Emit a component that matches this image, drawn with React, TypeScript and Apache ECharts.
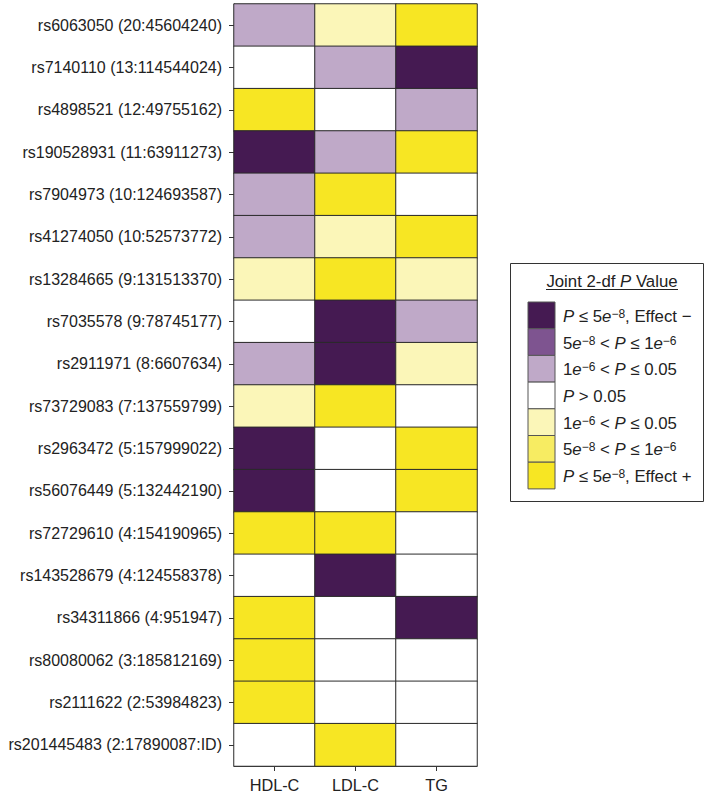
import React, { useEffect, useRef } from "react";
import * as echarts from "echarts";

const traits = ["HDL-C", "LDL-C", "TG"];
const variants = [
  "rs6063050 (20:45604240)",
  "rs7140110 (13:114544024)",
  "rs4898521 (12:49755162)",
  "rs190528931 (11:63911273)",
  "rs7904973 (10:124693587)",
  "rs41274050 (10:52573772)",
  "rs13284665 (9:131513370)",
  "rs7035578 (9:78745177)",
  "rs2911971 (8:6607634)",
  "rs73729083 (7:137559799)",
  "rs2963472 (5:157999022)",
  "rs56076449 (5:132442190)",
  "rs72729610 (4:154190965)",
  "rs143528679 (4:124558378)",
  "rs34311866 (4:951947)",
  "rs80080062 (3:185812169)",
  "rs2111622 (2:53984823)",
  "rs201445483 (2:17890087:ID)",
];
// category codes: -3 P<=5e-8 effect-, -2, -1, 0 P>0.05, 1, 2, 3 P<=5e-8 effect+
const hdlCodes = [-1, 0, 3, -3, -1, -1, 1, 0, -1, 1, -3, -3, 3, 0, 3, 3, 3, 0];
const ldlCodes = [1, -1, 0, -1, 3, 1, 3, -3, -3, 3, 0, 0, 3, -3, 0, 0, 0, 3];
const tgCodes = [3, -3, -1, 3, 0, 3, 1, -1, 1, 0, 3, 3, 0, 0, -3, 0, 0, 0];

const categoryCodes = [-3, -2, -1, 0, 1, 2, 3];
const categoryColors = ["#451a52", "#7e5490", "#bfa9c8", "#ffffff", "#fbf6b8", "#f7ec62", "#f7e623"];
const legendLabels = [
  "{i|P} ≤ 5{i|e}{s|−8}, Effect −",
  "5{i|e}{s|−8} < {i|P} ≤ 1{i|e}{s|−6}",
  "1{i|e}{s|−6} < {i|P} ≤ 0.05",
  "{i|P} > 0.05",
  "1{i|e}{s|−6} < {i|P} ≤ 0.05",
  "5{i|e}{s|−8} < {i|P} ≤ 1{i|e}{s|−6}",
  "{i|P} ≤ 5{i|e}{s|−8}, Effect +",
];

const FONT = "'Liberation Sans', Arial, sans-serif";
const TEXT = "#222222";
const LFS = 16.8;

export default function App() {
  const ref = useRef<HTMLDivElement>(null);
  useEffect(() => {
    if (!ref.current) return;
    const chart = echarts.init(ref.current, undefined, { renderer: "svg" });
    const columnsCodes = [hdlCodes, ldlCodes, tgCodes];
    const data: number[][] = [];
    columnsCodes.forEach((col, xi) => {
      col.forEach((v, yi) => data.push([xi, yi, v]));
    });

    const richBase = {
      n: { fontSize: LFS, fontFamily: FONT, fill: TEXT },
      i: { fontStyle: "italic", fontSize: LFS, fontFamily: FONT, fill: TEXT },
      s: { fontSize: 12, fontFamily: FONT, verticalAlign: "top", fill: TEXT },
    };

    const legendX = 510;
    const legendY = 263;
    const swX = 528;
    const swY = 302;
    const swH = 26.7;
    const graphics: any[] = [
      {
        type: "rect",
        shape: { x: legendX + 0.5, y: legendY + 0.5, width: 193, height: 238 },
        style: { fill: "#fff", stroke: "#333", lineWidth: 1 },
      },
      {
        type: "text",
        x: 612,
        y: 281,
        style: {
          text: "Joint 2-df {i|P} Value",
          fontSize: LFS,
          fontFamily: FONT,
          fill: TEXT,
          align: "center",
          verticalAlign: "middle",
          rich: richBase,
        },
      },
      {
        type: "line",
        shape: { x1: 546, y1: 289.5, x2: 678, y2: 289.5 },
        style: { stroke: TEXT, lineWidth: 1 },
      },
    ];
    categoryColors.forEach((c, k) => {
      graphics.push({
        type: "rect",
        shape: { x: swX, y: swY + k * swH, width: 27, height: swH },
        style: { fill: c, stroke: "#555", lineWidth: 1 },
      });
      graphics.push({
        type: "text",
        x: 563,
        y: swY + k * swH + swH / 2 + 1,
        style: {
          text: legendLabels[k],
          fontSize: LFS,
          fontFamily: FONT,
          fill: TEXT,
          verticalAlign: "middle",
          rich: richBase,
        },
      });
    });

    chart.setOption({
      animation: false,
      backgroundColor: "#ffffff",
      textStyle: { fontFamily: FONT },
      grid: { left: 234, right: 228, top: 4, bottom: 30 },
      xAxis: {
        type: "category",
        data: traits,
        position: "bottom",
        axisLine: { show: true, lineStyle: { color: "#333", width: 1 } },
        axisTick: { show: true, alignWithLabel: true, length: 5, lineStyle: { color: "#333" } },
        axisLabel: { color: TEXT, fontSize: 16.3, margin: 11, fontFamily: FONT },
        splitLine: { show: false },
        splitArea: { show: false },
      },
      yAxis: {
        type: "category",
        data: variants,
        inverse: true,
        axisLine: { show: true, lineStyle: { color: "#333", width: 1 } },
        axisTick: { show: true, alignWithLabel: true, length: 5, lineStyle: { color: "#333" } },
        axisLabel: { color: TEXT, fontSize: 16, margin: 12, fontFamily: FONT },
        splitLine: { show: false },
        splitArea: { show: false },
      },
      visualMap: {
        type: "piecewise",
        show: false,
        dimension: 2,
        pieces: categoryCodes.map((v, k) => ({ value: v, color: categoryColors[k] })),
      },
      series: [
        {
          type: "heatmap",
          data,
          itemStyle: { borderColor: "#2a2a2a", borderWidth: 1 },
          emphasis: { disabled: true },
          label: { show: false },
        },
      ],
      graphic: graphics,
    });
    return () => chart.dispose();
  }, []);
  return (
    <div
      ref={ref}
      style={{ position: "absolute", left: 0, top: 0, width: 705, height: 796 }}
    />
  );
}
